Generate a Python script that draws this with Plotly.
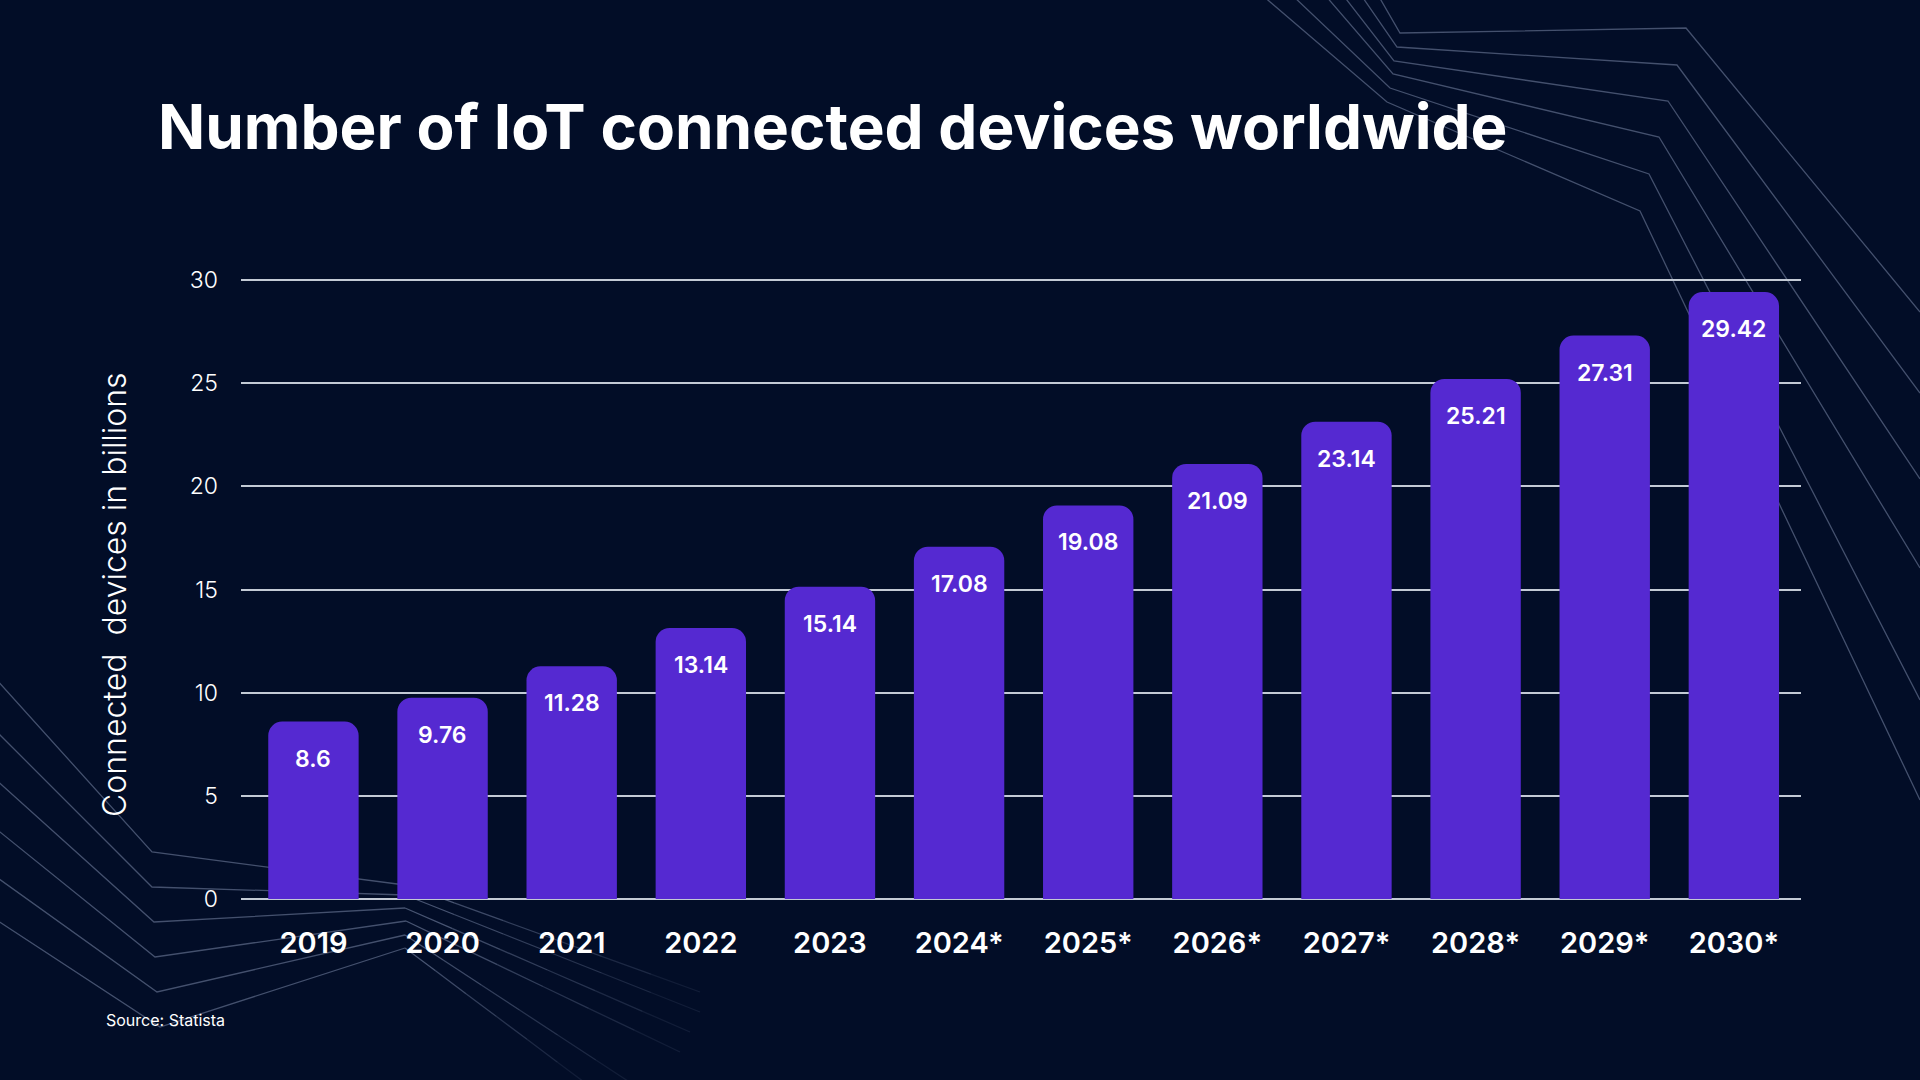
import plotly.graph_objects as go

# ---- data ----
years = ["2019", "2020", "2021", "2022", "2023", "2024*", "2025*", "2026*", "2027*", "2028*", "2029*", "2030*"]
devices = [8.6, 9.76, 11.28, 13.14, 15.14, 17.08, 19.08, 21.09, 23.14, 25.21, 27.31, 29.42]
value_labels = ["8.6", "9.76", "11.28", "13.14", "15.14", "17.08", "19.08", "21.09", "23.14", "25.21", "27.31", "29.42"]
y_ticks = [0, 5, 10, 15, 20, 25, 30]

TITLE = "Number of IoT connected devices worldwide"
Y_TITLE = "Connected\u00a0 devices in billions"
SOURCE = "Source: Statista"

# ---- style ----
BG = "#020d27"
BAR = "#5529d1"
GRID = "#c3cad5"
DECO = "#5a6785"
FONT = "Inter"

FW, FH = 1920, 1080
L, R, T, B = 241, 119, 270, 179
PW, PH = FW - L - R, FH - T - B


def xp(px):
    return (px - L) / PW


def yp(py):
    return ((FH - B) - py) / PH


fig = go.Figure()
fig.add_trace(go.Bar(
    x=years, y=devices, width=0.70,
    marker=dict(color=BAR, line=dict(width=0), cornerradius=14),
    hoverinfo="skip", showlegend=False,
))

annotations = []
for i, (v, lab) in enumerate(zip(devices, value_labels)):
    annotations.append(dict(
        x=i, y=v, xref="x", yref="y", text=lab, showarrow=False,
        yanchor="middle", xanchor="center", yshift=-37,
        font=dict(family=FONT, size=23, color="white", weight=600),
    ))

annotations.append(dict(
    x=xp(114), y=yp(595), xref="paper", yref="paper", text=Y_TITLE,
    textangle=-90, showarrow=False, xanchor="center", yanchor="middle",
    font=dict(family=FONT, size=32, color="white", weight=300),
))
annotations.append(dict(
    x=xp(104), y=yp(1020), xref="paper", yref="paper", text=SOURCE,
    showarrow=False, xanchor="left", yanchor="middle",
    font=dict(family=FONT, size=16, color="white"),
))

# decorative background circuit lines (layout decoration only)
upper_right = [
    [(1378, -5), (1400, 33), (1686, 28), (1920, 312)],
    [(1361, -5), (1397, 47), (1677, 65), (1920, 393)],
    [(1343, -5), (1394, 61), (1668, 101), (1920, 479)],
    [(1325, -5), (1393, 74), (1659, 137), (1920, 568)],
    [(1292, -5), (1390, 88), (1649, 174), (1920, 700)],
    [(1262, -5), (1387, 102), (1640, 211), (1920, 800)],
]
lower_left = [
    [(-5, 678), (152, 852), (405, 885), (700, 992)],
    [(-5, 730), (152, 887), (405, 895), (700, 1012)],
    [(-5, 779), (154, 922), (405, 908), (690, 1032)],
    [(-5, 828), (155, 957), (406, 921), (680, 1052)],
    [(-5, 876), (157, 992), (405, 935), (634, 1085)],
    [(-5, 919), (160, 1027), (405, 948), (588, 1085)],
]


def path_of(pts):
    return "M " + " L ".join(f"{xp(a):.5f},{yp(b):.5f}" for a, b in pts)


shapes = []
for pts in upper_right:
    shapes.append(dict(type="path", path=path_of(pts), xref="paper", yref="paper",
                       line=dict(color=DECO, width=1.3), opacity=0.75, layer="below"))
for pts in lower_left:
    shapes.append(dict(type="path", path=path_of(pts[:3]), xref="paper", yref="paper",
                       line=dict(color=DECO, width=1.3), opacity=0.75, layer="below"))
    (x0, y0), (x1, y1) = pts[2], pts[3]
    n = 6
    for k in range(n):
        a0, a1 = k / n, (k + 1) / n
        seg = [(x0 + (x1 - x0) * a0, y0 + (y1 - y0) * a0), (x0 + (x1 - x0) * a1, y0 + (y1 - y0) * a1)]
        shapes.append(dict(type="path", path=path_of(seg), xref="paper", yref="paper",
                           line=dict(color=DECO, width=1.3), opacity=0.75 * (1 - k / n) + 0.05,
                           layer="below"))

fig.update_layout(
    width=FW, height=FH,
    margin=dict(l=L, r=R, t=T, b=B, pad=0),
    paper_bgcolor=BG, plot_bgcolor="rgba(0,0,0,0)",
    title=dict(text=TITLE, x=158 / FW, xref="container", xanchor="left",
               y=1 - 127 / FH, yref="container", yanchor="middle",
               font=dict(family=FONT, size=62, color="white", weight=700)),
    xaxis=dict(type="category", range=[-0.561, 11.52], showgrid=False, zeroline=False,
               showline=False, ticks="", ticklabelstandoff=22,
               tickfont=dict(family=FONT, size=29, color="white", weight=600),
               fixedrange=True),
    yaxis=dict(range=[-0.097, 30.49], tickvals=y_ticks, showgrid=True, gridcolor=GRID,
               gridwidth=2, zeroline=True, zerolinecolor=GRID, zerolinewidth=2,
               showline=False, ticks="", ticklabelstandoff=22,
               tickfont=dict(family=FONT, size=23, color="white", weight=300),
               fixedrange=True),
    annotations=annotations,
    shapes=shapes,
    bargap=0.3,
)

fig.write_html(
    "out.html",
    config={"displayModeBar": False},
    post_script="document.body.style.margin='0';document.body.style.background='#020d27';document.body.style.overflow='hidden';",
)
